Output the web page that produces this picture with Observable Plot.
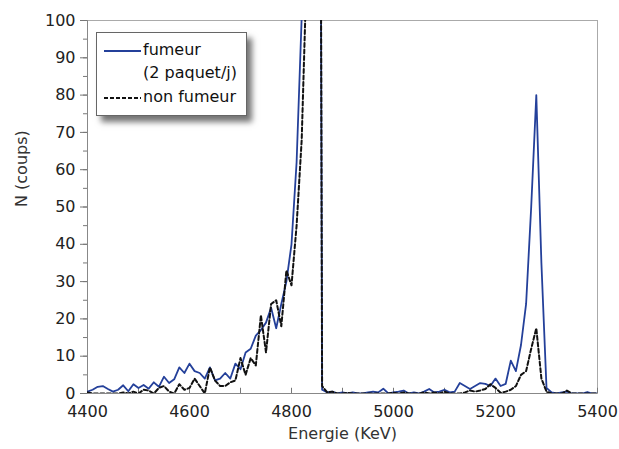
<!DOCTYPE html>
<html>
<head>
<meta charset="utf-8">
<script src="https://cdn.jsdelivr.net/npm/d3@7"></script>
<script src="https://cdn.jsdelivr.net/npm/@observablehq/plot@0.6"></script>
<style>
  body { margin: 0; background: #fff; }
  #wrap { position: relative; width: 619px; height: 449px; font-family: "DejaVu Sans", Verdana, sans-serif; }
  #legend { position: absolute; left: 96px; top: 32px; width: 151px; height: 84px; background: #fff;
    border: 1px solid #666; box-shadow: 5px 6px 6px rgba(0,0,0,0.55); box-sizing: border-box; }
  #legend .row { position: absolute; left: 0; font-size: 16px; color: #111; white-space: nowrap; }
  #legend svg { position: absolute; left: 0; top: 0; }
</style>
</head>
<body>
<div id="wrap"></div>
<script>
// Channel energies (keV), 10 keV bins
const energies = d3.range(4400, 5401, 10);
// Fumeur (2 paquet/j) counts
const fumeur = [
  0.5, 1, 1.8, 2, 1.2, 0.5, 1, 2.2, 0.6, 2.5,
  1.5, 2.3, 1.3, 3, 1.8, 4.5, 2.8, 3.8, 7, 5.5,
  8, 6, 5.5, 4, 7, 3.5, 4, 5.5, 4, 8,
  6.5, 11, 12, 15.5, 17, 19, 23, 17.5, 24, 30,
  40, 62, 101, 400, 600, 500, 1, 0.3, 0.5, 0,
  0.3, 0, 0.3, 0, 0, 0.3, 0.5, 0.3, 1.3, 0,
  0.3, 0.5, 0.8, 0, 0.3, 0, 0.5, 1.2, 0.3, 0.5,
  1, 0.3, 0.5, 2.8, 2, 1.2, 2, 2.8, 2.6, 2,
  4, 2, 2.6, 8.8, 6, 13, 24, 50, 80, 35,
  1.5, 0.3, 0, 0.3, 0.5, 0, 0, 0, 0.4, 0,
  0
];
// Non fumeur counts
const nonFumeur = [
  0.3, 0, 0, 0, 0, 0, 0, 0.3, 0, 0.5,
  0, 1, 0.8, 0, 1.5, 2, 0.5, 0, 2.5, 1,
  1.5, 4, 2, 0, 7, 3.5, 2, 2, 3, 3.5,
  9.5, 5, 9.5, 7.5, 21, 11, 24, 25, 18, 33,
  29, 45, 68, 115, 400, 500, 2, 0.3, 0.5, 0,
  0, 0.2, 0, 0, 0, 0, 0, 0, 0, 0,
  0.2, 0, 0.3, 0, 0, 0, 0.3, 0, 0.3, 0,
  0.5, 0, 0, 0, 0.3, 0.8, 0.5, 0.8, 1.2, 2.5,
  1.5, 0.2, 0.5, 1, 2, 5, 6, 12, 17.5, 4,
  0.5, 0, 0, 0, 0.8, 0, 0, 0, 0, 0,
  0
];
const xTicks = [4400, 4600, 4800, 5000, 5200, 5400];
const xMinorTicks = d3.range(4400, 5401, 100);
const yTicks = [0, 10, 20, 30, 40, 50, 60, 70, 80, 90, 100];
const yMinorTicks = d3.range(0, 101, 5);
const seriesNames = ["fumeur", "(2 paquet/j)", "non fumeur"];

const dataF = energies.map((e, i) => ({e, n: fumeur[i]}));
const dataN = energies.map((e, i) => ({e, n: nonFumeur[i]}));

const chart = Plot.plot({
  width: 619, height: 449,
  marginLeft: 87, marginRight: 22, marginTop: 20, marginBottom: 56,
  style: {fontFamily: "DejaVu Sans, Verdana, sans-serif", fontSize: "16px", color: "#222", background: "#fff"},
  x: {domain: [4400, 5400], label: null},
  y: {domain: [0, 100], label: null},
  marks: [
    Plot.frame({stroke: "#aaa", strokeWidth: 1}),
    Plot.axisY({ticks: yMinorTicks, tickSize: 4, text: null, stroke: "#777"}),
    Plot.axisY({ticks: yTicks, tickSize: 7, tickPadding: 5, stroke: "#777", fontSize: 16, label: null, tickFormat: d => String(d)}),
    Plot.ruleX(xMinorTicks, {x: d => d, y1: 0, y2: 1.4, stroke: "#777"}),
    Plot.axisX({ticks: xTicks, tickSize: 0, tickPadding: 12, fontSize: 16, label: null, tickFormat: d => String(d)}),
    Plot.ruleY([0], {stroke: "#888"}),
    Plot.ruleX([4400], {stroke: "#888"}),
    Plot.line(dataF, {x: "e", y: "n", stroke: "#24409a", strokeWidth: 1.8, clip: true}),
    Plot.line(dataN, {x: "e", y: "n", stroke: "#111", strokeWidth: 2, strokeDasharray: "4,2.5", clip: true}),
    Plot.text(["N (coups)"], {frameAnchor: "left", dx: -66, rotate: -90, fontSize: 16, fill: "#333"}),
    Plot.text(["Energie (KeV)"], {frameAnchor: "bottom", dy: 45, fontSize: 16, fill: "#333"})
  ]
});

const wrap = document.getElementById("wrap");
wrap.appendChild(chart);

const legend = document.createElement("div");
legend.id = "legend";
legend.innerHTML = `
  <svg width="151" height="84">
    <line x1="7" x2="44" y1="18" y2="18" stroke="#24409a" stroke-width="2"/>
    <line x1="7" x2="44" y1="65" y2="65" stroke="#111" stroke-width="2" stroke-dasharray="4,2"/>
  </svg>
  <div class="row" style="left:46px; top:7px">${seriesNames[0]}</div>
  <div class="row" style="left:46px; top:30px">${seriesNames[1]}</div>
  <div class="row" style="left:46px; top:54px">${seriesNames[2]}</div>
`;
wrap.appendChild(legend);
</script>
</body>
</html>
